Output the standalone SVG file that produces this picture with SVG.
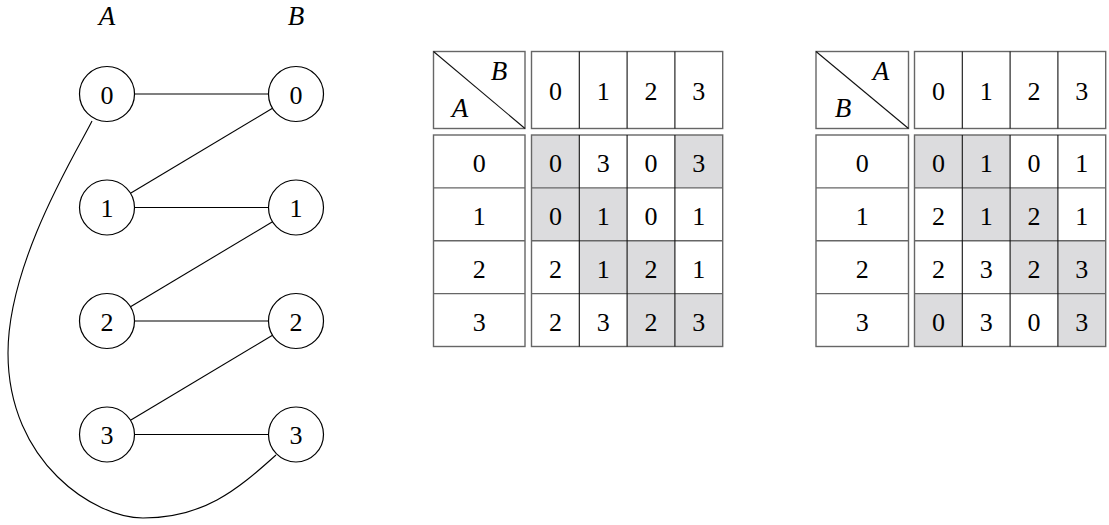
<svg xmlns="http://www.w3.org/2000/svg" width="1109" height="525" viewBox="0 0 1109 525">
<style>
.node{fill:#fff;stroke:#000;stroke-width:1.2}
.edge{fill:none;stroke:#000;stroke-width:1.1}
.box{fill:none;stroke:#666;stroke-width:1.4}
.div{stroke:#111;stroke-width:1.1}
.hl{stroke:#666;stroke-width:1.4}
.sh{fill:#dcdcde}
</style>
<g font-family="Liberation Serif, DejaVu Serif, serif" text-anchor="middle" fill="#000">
<g font-style="italic" font-size="27">
<text x="107" y="25">A</text>
<text x="296" y="25">B</text>
</g>
<g id="connectors">
<line class="edge" x1="134.5" y1="94" x2="268.5" y2="94"/>
<line class="edge" x1="134.5" y1="207.5" x2="268.5" y2="207.5"/>
<line class="edge" x1="134.5" y1="321" x2="268.5" y2="321"/>
<line class="edge" x1="134.5" y1="434.5" x2="268.5" y2="434.5"/>
<line class="edge" x1="130.5" y1="193.3" x2="272.5" y2="108.2"/>
<line class="edge" x1="130.5" y1="306.8" x2="272.5" y2="221.7"/>
<line class="edge" x1="130.5" y1="420.3" x2="272.5" y2="335.2"/>
<path class="edge" d="M92 121 C80 146 8 260 8 353 C8 463 95 518 143 518 C203 518 236 491 276 455"/>
</g>
<g font-size="26">
<g id="a0"><circle class="node" cx="107" cy="94" r="27.5"/><text x="107" y="103.5">0</text></g>
<g id="a1"><circle class="node" cx="107" cy="207.5" r="27.5"/><text x="107" y="217">1</text></g>
<g id="a2"><circle class="node" cx="107" cy="321" r="27.5"/><text x="107" y="330.5">2</text></g>
<g id="a3"><circle class="node" cx="107" cy="434.5" r="27.5"/><text x="107" y="444">3</text></g>
<g id="b0"><circle class="node" cx="296" cy="94" r="27.5"/><text x="296" y="103.5">0</text></g>
<g id="b1"><circle class="node" cx="296" cy="207.5" r="27.5"/><text x="296" y="217">1</text></g>
<g id="b2"><circle class="node" cx="296" cy="321" r="27.5"/><text x="296" y="330.5">2</text></g>
<g id="b3"><circle class="node" cx="296" cy="434.5" r="27.5"/><text x="296" y="444">3</text></g>
</g>

<g id="table1" font-size="26">
<rect class="sh" x="531.5" y="135" width="47.8" height="52.9"/>
<rect class="sh" x="674.9" y="135" width="47.8" height="52.9"/>
<rect class="sh" x="531.5" y="187.9" width="47.8" height="52.9"/>
<rect class="sh" x="579.3" y="187.9" width="47.8" height="52.9"/>
<rect class="sh" x="579.3" y="240.75" width="47.8" height="52.9"/>
<rect class="sh" x="627.1" y="240.75" width="47.8" height="52.9"/>
<rect class="sh" x="627.1" y="293.6" width="47.8" height="52.9"/>
<rect class="sh" x="674.9" y="293.6" width="47.8" height="52.9"/>
<rect class="box" x="433.5" y="51.5" width="91.5" height="77"/>
<line class="div" x1="433.5" y1="51.5" x2="525" y2="128.5"/>
<text x="499" y="80" font-style="italic" font-size="27">B</text>
<text x="460" y="117" font-style="italic" font-size="27">A</text>
<rect class="box" x="531.5" y="51.5" width="191.2" height="77"/>
<line class="div" x1="579.3" y1="51.5" x2="579.3" y2="128.5"/>
<line class="div" x1="627.1" y1="51.5" x2="627.1" y2="128.5"/>
<line class="div" x1="674.9" y1="51.5" x2="674.9" y2="128.5"/>
<text x="555.4" y="99.5">0</text><text x="603.2" y="99.5">1</text><text x="651" y="99.5">2</text><text x="698.8" y="99.5">3</text>
<rect class="box" x="433.5" y="135" width="91.5" height="211.5"/>
<line class="hl" x1="433.5" y1="187.9" x2="525" y2="187.9"/>
<line class="hl" x1="433.5" y1="240.75" x2="525" y2="240.75"/>
<line class="hl" x1="433.5" y1="293.6" x2="525" y2="293.6"/>
<rect class="box" x="531.5" y="135" width="191.2" height="211.5"/>
<line class="hl" x1="531.5" y1="187.9" x2="722.7" y2="187.9"/>
<line class="hl" x1="531.5" y1="240.75" x2="722.7" y2="240.75"/>
<line class="hl" x1="531.5" y1="293.6" x2="722.7" y2="293.6"/>
<line class="div" x1="579.3" y1="135" x2="579.3" y2="346.5"/>
<line class="div" x1="627.1" y1="135" x2="627.1" y2="346.5"/>
<line class="div" x1="674.9" y1="135" x2="674.9" y2="346.5"/>
<text x="479.25" y="171.5">0</text><text x="479.25" y="224.5">1</text><text x="479.25" y="277.5">2</text><text x="479.25" y="330.5">3</text>
<text x="555.4" y="171.5">0</text><text x="603.2" y="171.5">3</text><text x="651" y="171.5">0</text><text x="698.8" y="171.5">3</text>
<text x="555.4" y="224.5">0</text><text x="603.2" y="224.5">1</text><text x="651" y="224.5">0</text><text x="698.8" y="224.5">1</text>
<text x="555.4" y="277.5">2</text><text x="603.2" y="277.5">1</text><text x="651" y="277.5">2</text><text x="698.8" y="277.5">1</text>
<text x="555.4" y="330.5">2</text><text x="603.2" y="330.5">3</text><text x="651" y="330.5">2</text><text x="698.8" y="330.5">3</text>
</g>

<g id="table2" font-size="26">
<rect class="sh" x="914.5" y="135" width="47.8" height="52.9"/>
<rect class="sh" x="962.3" y="135" width="47.8" height="52.9"/>
<rect class="sh" x="962.3" y="187.9" width="47.8" height="52.9"/>
<rect class="sh" x="1010.1" y="187.9" width="47.8" height="52.9"/>
<rect class="sh" x="1010.1" y="240.75" width="47.8" height="52.9"/>
<rect class="sh" x="1057.9" y="240.75" width="47.8" height="52.9"/>
<rect class="sh" x="914.5" y="293.6" width="47.8" height="52.9"/>
<rect class="sh" x="1057.9" y="293.6" width="47.8" height="52.9"/>
<rect class="box" x="816" y="51.5" width="92.5" height="77"/>
<line class="div" x1="816" y1="51.5" x2="908.5" y2="128.5"/>
<text x="881" y="80" font-style="italic" font-size="27">A</text>
<text x="843" y="117" font-style="italic" font-size="27">B</text>
<rect class="box" x="914.5" y="51.5" width="191.2" height="77"/>
<line class="div" x1="962.3" y1="51.5" x2="962.3" y2="128.5"/>
<line class="div" x1="1010.1" y1="51.5" x2="1010.1" y2="128.5"/>
<line class="div" x1="1057.9" y1="51.5" x2="1057.9" y2="128.5"/>
<text x="938.4" y="99.5">0</text><text x="986.2" y="99.5">1</text><text x="1034" y="99.5">2</text><text x="1081.8" y="99.5">3</text>
<rect class="box" x="816" y="135" width="92.5" height="211.5"/>
<line class="hl" x1="816" y1="187.9" x2="908.5" y2="187.9"/>
<line class="hl" x1="816" y1="240.75" x2="908.5" y2="240.75"/>
<line class="hl" x1="816" y1="293.6" x2="908.5" y2="293.6"/>
<rect class="box" x="914.5" y="135" width="191.2" height="211.5"/>
<line class="hl" x1="914.5" y1="187.9" x2="1105.7" y2="187.9"/>
<line class="hl" x1="914.5" y1="240.75" x2="1105.7" y2="240.75"/>
<line class="hl" x1="914.5" y1="293.6" x2="1105.7" y2="293.6"/>
<line class="div" x1="962.3" y1="135" x2="962.3" y2="346.5"/>
<line class="div" x1="1010.1" y1="135" x2="1010.1" y2="346.5"/>
<line class="div" x1="1057.9" y1="135" x2="1057.9" y2="346.5"/>
<text x="862.25" y="171.5">0</text><text x="862.25" y="224.5">1</text><text x="862.25" y="277.5">2</text><text x="862.25" y="330.5">3</text>
<text x="938.4" y="171.5">0</text><text x="986.2" y="171.5">1</text><text x="1034" y="171.5">0</text><text x="1081.8" y="171.5">1</text>
<text x="938.4" y="224.5">2</text><text x="986.2" y="224.5">1</text><text x="1034" y="224.5">2</text><text x="1081.8" y="224.5">1</text>
<text x="938.4" y="277.5">2</text><text x="986.2" y="277.5">3</text><text x="1034" y="277.5">2</text><text x="1081.8" y="277.5">3</text>
<text x="938.4" y="330.5">0</text><text x="986.2" y="330.5">3</text><text x="1034" y="330.5">0</text><text x="1081.8" y="330.5">3</text>
</g>
</g>
</svg>
